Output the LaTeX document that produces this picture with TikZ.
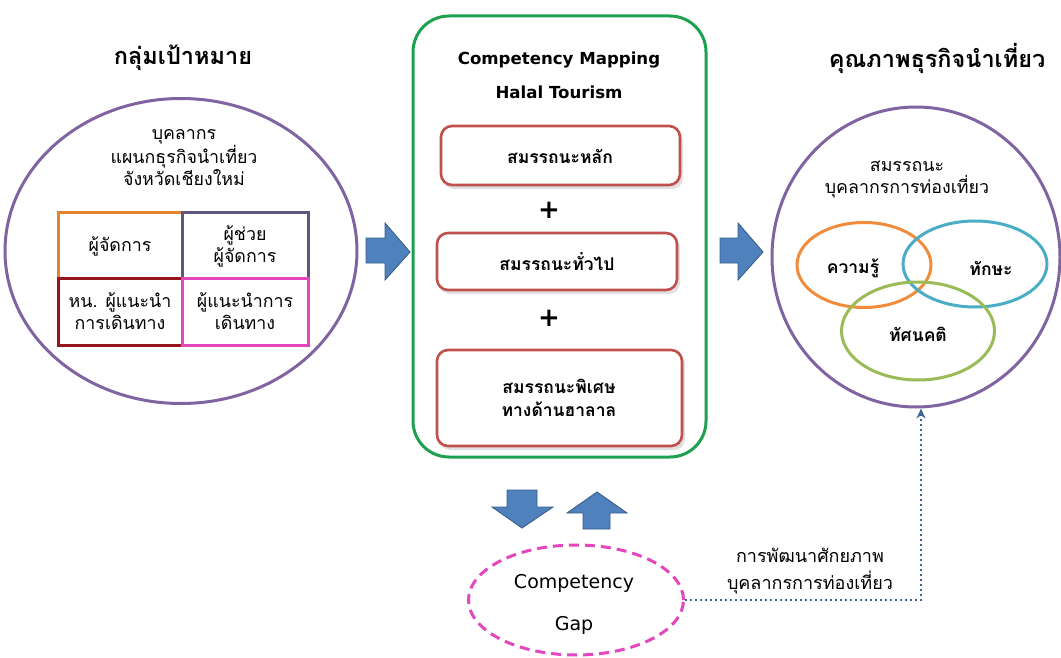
\documentclass[tikz,border=0pt]{standalone}
\usepackage{fontspec}
\setmainfont{DejaVu Sans}
\newfontfamily\thai[Script=Thai]{Loma}
\usetikzlibrary{shapes.geometric,arrows.meta}
\definecolor{vpurple}{RGB}{128,100,162}
\definecolor{gridpurple}{RGB}{96,86,125}
\definecolor{gorange}{RGB}{228,131,45}
\definecolor{gdred}{RGB}{150,20,30}
\definecolor{gmag}{RGB}{228,70,190}
\definecolor{mgreen}{RGB}{30,160,80}
\definecolor{bred}{RGB}{192,80,77}
\definecolor{bblue}{RGB}{79,129,189}
\definecolor{bbluedark}{RGB}{56,93,138}
\definecolor{korange}{RGB}{240,140,60}
\definecolor{kblue}{RGB}{75,172,198}
\definecolor{kgreen}{RGB}{155,187,89}
\definecolor{dotblue}{RGB}{60,100,150}
\tikzset{
  ttl/.style={font=\thai\bfseries\fontsize{23.5}{26}\selectfont},
  ebold/.style={font=\bfseries\fontsize{16.6}{30}\selectfont},
  ttext/.style={font=\thai\fontsize{17.8}{22}\selectfont, align=center},
  tbold/.style={font=\thai\bfseries\fontsize{17.5}{23}\selectfont, align=center},
  bigell/.style={draw=vpurple, line width=3pt, ellipse},
  redbox/.style={draw=bred, line width=2.6pt, rounded corners=11pt, fill=white},
  boxshadow/.style={fill=black!12, rounded corners=11pt},
  barrow/.style={fill=bblue, draw=bbluedark, line width=0.9pt},
  cell/.style={line width=3pt},
  venn/.style={ellipse, line width=3pt},
}
\begin{document}
\begin{tikzpicture}[x=1pt,y=-1pt]
\useasboundingbox (0,0) rectangle (1061,658);
% titles
\node[ttl] (t1) at (183,58) {กลุ่มเป้าหมาย};
\node[ttl] (t3) at (937,58) {คุณภาพธุรกิจนำเที่ยว};
% left ellipse
\node[bigell, minimum width=352, minimum height=305] (le) at (181,251) {};
\node[ttext] (lt) at (184,158) {บุคลากร\\แผนกธุรกิจนำเที่ยว\\จังหวัดเชียงใหม่};
% grid
\node[ttext] (c1) at (120,246) {ผู้จัดการ};
\node[ttext] (c2) at (245,246) {ผู้ช่วย\\ผู้จัดการ};
\node[ttext] (c3) at (120,311) {หน. ผู้แนะนำ\\การเดินทาง};
\node[ttext] (c4) at (245,311) {ผู้แนะนำการ\\เดินทาง};
\draw[cell, draw=gorange] (58,278) -- (58,213) -- (182,213);
\draw[cell, draw=gridpurple] (182,278) -- (182,213) -- (308,213) -- (308,278);
\draw[cell, draw=gdred] (58,278) rectangle (182,345);
\draw[cell, draw=gmag] (182,278) rectangle (308,345);
% left block arrow
\draw[barrow] (366,238) -- (385,238) -- (385,223) -- (410,252) -- (385,280) -- (385,263) -- (366,263) -- cycle;
% middle box
\draw[draw=mgreen, line width=3pt, rounded corners=36pt] (413,16) rectangle (706,457);
\node[ebold] (m1) at (559,60) {Competency Mapping};
\node[ebold] (m2) at (559,92) {Halal Tourism};
\fill[boxshadow] (443,129) rectangle (683,189);
\draw[redbox] (441,126) rectangle (680,185);
\node[tbold] (r1) at (560,156) {สมรรถนะหลัก};
\node[font=\bfseries\fontsize{26}{26}\selectfont] (p1) at (549,210) {+};
\fill[boxshadow] (439,236) rectangle (680,294);
\draw[redbox] (437,233) rectangle (677,290);
\node[tbold] (r2) at (557,262) {สมรรถนะทั่วไป};
\node[font=\bfseries\fontsize{26}{26}\selectfont] (p2) at (549,318) {+};
\fill[boxshadow] (439,353) rectangle (685,450);
\draw[redbox] (437,350) rectangle (682,446);
\node[tbold] (r3) at (559,398) {สมรรถนะพิเศษ\\ทางด้านฮาลาล};
% right block arrow
\draw[barrow] (720,238) -- (738,238) -- (738,223) -- (763,252) -- (738,280) -- (738,263) -- (720,263) -- cycle;
% right ellipse
\node[bigell, minimum width=288, minimum height=300] (re) at (916,257) {};
\node[ttext] (rt) at (907,180) {สมรรถนะ\\บุคลากรการท่องเที่ยว};
\node[venn, draw=korange, minimum width=134, minimum height=85] (ek) at (864,265) {};
\node[venn, draw=kblue, minimum width=144, minimum height=86] (es) at (975,264) {};
\node[venn, draw=kgreen, minimum width=153, minimum height=98] (ea) at (918,331) {};
\node[tbold] (k1) at (853,268) {ความรู้};
\node[tbold] (k2) at (991,268) {ทักษะ};
\node[tbold] (k3) at (918,334) {ทัศนคติ};
% down / up arrows
\draw[barrow] (507,490) -- (537,490) -- (537,507) -- (553,507) -- (522,528) -- (492,507) -- (507,507) -- cycle;
\draw[barrow] (583,529) -- (610,529) -- (610,513) -- (627,513) -- (597,492) -- (567,513) -- (583,513) -- cycle;
% gap ellipse
\node[ellipse, draw=gmag, dashed, dash pattern=on 10pt off 6pt, line width=3pt, minimum width=215, minimum height=110] (gap) at (576,600) {};
\node[font=\fontsize{19}{42}\selectfont, align=center] (gt) at (574,604) {Competency\\Gap};
% dotted connector
\coordinate (bend) at (921,600);
\draw[dotblue, line width=2.2pt, dash pattern=on 2.2pt off 2.8pt, -{Stealth[length=10pt,width=9pt]}] (gap.east) -- (bend) -- (re.south -| bend);
\node[ttext, font=\thai\fontsize{18}{27}\selectfont] (dev) at (810,571) {การพัฒนาศักยภาพ\\บุคลากรการท่องเที่ยว};
\end{tikzpicture}
\end{document}
